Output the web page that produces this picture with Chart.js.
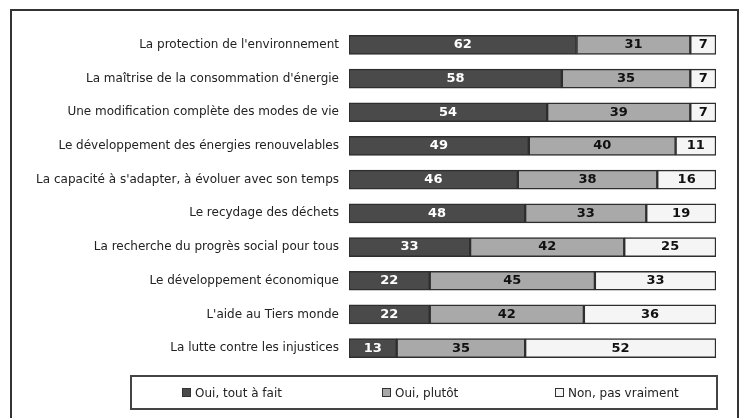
<!DOCTYPE html>
<html>
<head>
<meta charset="utf-8">
<script src="https://cdn.jsdelivr.net/npm/chart.js@4.4.1/dist/chart.umd.min.js"></script>
<style>
  html, body { margin: 0; padding: 0; background: #fff; width: 742px; height: 418px; overflow: hidden; }
  #wrap { position: absolute; left: 0; top: 0; width: 742px; height: 418px; }
  #frame { position: absolute; left: 10px; top: 9px; width: 725px; height: 430px; border: 2px solid #333; box-sizing: content-box; pointer-events: none; }
  #legend { position: absolute; left: 130px; top: 375px; width: 584px; height: 31px; border: 2px solid #444; font-family: "DejaVu Sans", sans-serif; font-size: 12px; color: #222; }
  .item { position: absolute; top: 0; height: 31px; display: flex; align-items: center; white-space: nowrap; }
  .sw { width: 7px; height: 7px; border: 1px solid #333; margin-right: 4px; }
</style>
</head>
<body>
<div id="wrap">
  <canvas id="c" width="742" height="418"></canvas>
  <div id="frame"></div>
  <div id="legend"></div>
</div>
<script>
const categories = [
  "La protection de l'environnement",
  "La maîtrise de la consommation d'énergie",
  "Une modification complète des modes de vie",
  "Le développement des énergies renouvelables",
  "La capacité à s'adapter, à évoluer avec son temps",
  "Le recydage des déchets",
  "La recherche du progrès social pour tous",
  "Le développement économique",
  "L'aide au Tiers monde",
  "La lutte contre les injustices"
];
const seriesNames = ["Oui, tout à fait", "Oui, plutôt", "Non, pas vraiment"];
const ouiToutAFait = [62, 58, 54, 49, 46, 48, 33, 22, 22, 13];
const ouiPlutot    = [31, 35, 39, 40, 38, 33, 42, 45, 42, 35];
const nonPasVraiment = [7, 7, 7, 11, 16, 19, 25, 33, 36, 52];

const colors = ["#4a4a4a", "#a9a9a9", "#f5f5f5"];
const labelColors = ["#ffffff", "#111111", "#111111"];

const valueLabels = {
  id: 'valueLabels',
  afterDatasetsDraw(chart) {
    const ctx = chart.ctx;
    ctx.save();
    ctx.font = 'bold 13px "DejaVu Sans", sans-serif';
    ctx.textAlign = 'center';
    ctx.textBaseline = 'middle';
    chart.data.datasets.forEach((ds, di) => {
      const meta = chart.getDatasetMeta(di);
      meta.data.forEach((el, i) => {
        const x = (el.x + el.base) / 2;
        ctx.fillStyle = labelColors[di];
        ctx.fillText(String(ds.data[i]), x, el.y);
      });
    });
    ctx.restore();
  }
};

const chart = new Chart(document.getElementById('c'), {
  type: 'bar',
  data: {
    labels: categories,
    datasets: [
      { label: seriesNames[0], data: ouiToutAFait, backgroundColor: colors[0] },
      { label: seriesNames[1], data: ouiPlutot, backgroundColor: colors[1] },
      { label: seriesNames[2], data: nonPasVraiment, backgroundColor: colors[2] }
    ].map(d => Object.assign(d, { borderColor: '#2e2e2e', borderWidth: 1.5, barThickness: 19, borderSkipped: false }))
  },
  options: {
    indexAxis: 'y',
    responsive: false,
    animation: false,
    layout: { padding: { left: 10, right: 26, top: 28, bottom: 53 } },
    plugins: { legend: { display: false }, tooltip: { enabled: false } },
    scales: {
      x: { stacked: true, min: 0, max: 100, display: false },
      y: {
        stacked: true,
        grid: { display: false },
        border: { display: false },
        ticks: { color: '#222', padding: 2, font: { family: '"DejaVu Sans", sans-serif', size: 12 } },
        afterFit(scale) { scale.width = 339; }
      }
    }
  },
  plugins: [valueLabels]
});

// legend built from the chart's datasets
const legendPositions = [50, 250, 423];
const lg = document.getElementById('legend');
chart.data.datasets.forEach((ds, i) => {
  const it = document.createElement('div');
  it.className = 'item';
  it.style.left = legendPositions[i] + 'px';
  const sw = document.createElement('span');
  sw.className = 'sw';
  sw.style.background = ds.backgroundColor;
  it.appendChild(sw);
  const t = document.createElement('span');
  t.textContent = ds.label;
  it.appendChild(t);
  lg.appendChild(it);
});
</script>
</body>
</html>
